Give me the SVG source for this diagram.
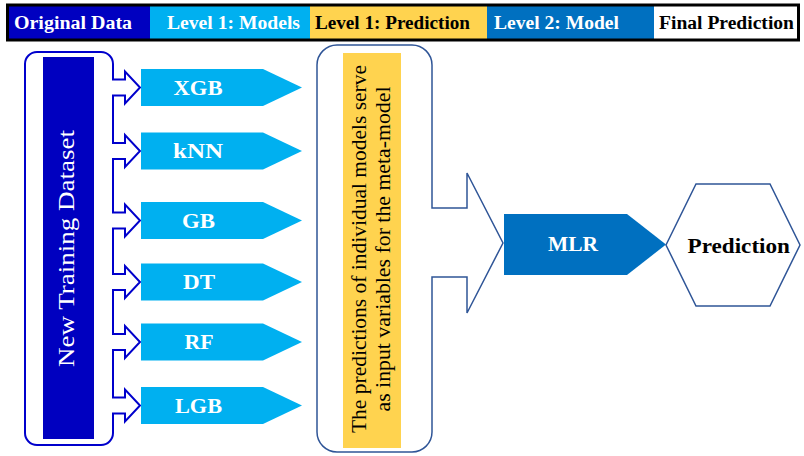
<svg xmlns="http://www.w3.org/2000/svg" width="804" height="456" viewBox="0 0 804 456">
  <style>
    .serif { font-family: "Liberation Serif", "Times New Roman", serif; }
    .hdr { font-size: 18px; font-weight: bold; }
    .lbl { font-size: 20px; font-weight: bold; fill: #ffffff; text-anchor: middle; }
    .model { fill: #00B0F0; }
    .fan { fill: #ffffff; stroke: #0000CC; stroke-width: 2; stroke-linejoin: miter; }
    .merge { fill: #ffffff; stroke: #2F5597; stroke-width: 1.5; }
  </style>

  <rect width="804" height="456" fill="#ffffff"/>

  <!-- legend bar -->
  <g id="legend">
    <rect x="7" y="5" width="143" height="35" fill="#0000C0"/>
    <rect x="150" y="5" width="160" height="35" fill="#00B0F0"/>
    <rect x="310" y="5" width="177" height="35" fill="#FFD34F"/>
    <rect x="487" y="5" width="167" height="35" fill="#0070C0"/>
    <rect x="654" y="5" width="145" height="35" fill="#ffffff"/>
    <rect x="7.5" y="5" width="791" height="35" fill="none" stroke="#000000" stroke-width="3"/>
    <text class="serif hdr" x="14" y="28.5" fill="#ffffff" textLength="118" lengthAdjust="spacingAndGlyphs">Original Data</text>
    <text class="serif hdr" x="167" y="28.5" fill="#ffffff" textLength="133" lengthAdjust="spacingAndGlyphs">Level 1: Models</text>
    <text class="serif hdr" x="315" y="28.5" fill="#000000" textLength="155" lengthAdjust="spacingAndGlyphs">Level 1: Prediction</text>
    <text class="serif hdr" x="494" y="28.5" fill="#ffffff" textLength="125" lengthAdjust="spacingAndGlyphs">Level 2: Model</text>
    <text class="serif hdr" x="659" y="28.5" fill="#000000" textLength="135" lengthAdjust="spacingAndGlyphs">Final Prediction</text>
  </g>

  <!-- fan-out container and the merge block arrow -->
  <g id="connectors">
    <path class="fan" d="M37,52 H101 A12,12 0 0 1 113,64
      V79.5 H125 V71.5 L140,87.5 L125,103.5 V95.5 H113
      V143 H125 V135 L140,151 L125,167 V159 H113
      V212.5 H125 V204.5 L140,220.5 L125,236.5 V228.5 H113
      V274 H125 V266 L140,282 L125,298 V290 H113
      V334 H125 V326 L140,342 L125,358 V350 H113
      V397.5 H125 V389.5 L140,405.5 L125,421.5 V413.5 H113
      V433 A12,12 0 0 1 101,445 H37 A12,12 0 0 1 25,433 V64 A12,12 0 0 1 37,52 Z"/>
    <path class="merge" d="M337,45 H412 A20,20 0 0 1 432,65 V208 H467 V173 L503,243 L467,313 V277 H432
      V432 A20,20 0 0 1 412,452 H337 A20,20 0 0 1 317,432 V65 A20,20 0 0 1 337,45 Z"/>
  </g>

  <g id="dataset">
    <rect x="43" y="57" width="51" height="382" fill="#0000C0"/>
    <text class="serif" transform="translate(74,248.5) rotate(-90)" x="0" y="0" font-size="24" fill="#ffffff" text-anchor="middle" textLength="237" lengthAdjust="spacingAndGlyphs">New Training Dataset</text>
  </g>

  <g id="xgb">
    <polygon class="model" points="141,69 263,69 302,87.5 263,106 141,106"/>
    <text class="serif lbl" x="198" y="94.5" textLength="49" lengthAdjust="spacingAndGlyphs">XGB</text>
  </g>
  <g id="knn">
    <polygon class="model" points="141,132.5 263,132.5 302,151 263,169.5 141,169.5"/>
    <text class="serif lbl" x="198" y="158" textLength="50" lengthAdjust="spacingAndGlyphs">kNN</text>
  </g>
  <g id="gb">
    <polygon class="model" points="141,202 263,202 302,220.5 263,239 141,239"/>
    <text class="serif lbl" x="198.5" y="227.5" textLength="33" lengthAdjust="spacingAndGlyphs">GB</text>
  </g>
  <g id="dt">
    <polygon class="model" points="141,263.5 263,263.5 302,282 263,300.5 141,300.5"/>
    <text class="serif lbl" x="199" y="289" textLength="32" lengthAdjust="spacingAndGlyphs">DT</text>
  </g>
  <g id="rf">
    <polygon class="model" points="141,323.5 263,323.5 302,342 263,360.5 141,360.5"/>
    <text class="serif lbl" x="199" y="349" textLength="29" lengthAdjust="spacingAndGlyphs">RF</text>
  </g>
  <g id="lgb">
    <polygon class="model" points="141,387 263,387 302,405.5 263,424 141,424"/>
    <text class="serif lbl" x="198.5" y="412.5" textLength="47" lengthAdjust="spacingAndGlyphs">LGB</text>
  </g>

  <g id="predictions">
    <rect x="343" y="53" width="58" height="395" fill="#FFD34F"/>
    <text class="serif" transform="translate(366,249) rotate(-90)" x="0" y="0" font-size="20" fill="#000000" text-anchor="middle" textLength="368" lengthAdjust="spacingAndGlyphs">The predictions of individual models serve</text>
    <text class="serif" transform="translate(389.5,249) rotate(-90)" x="0" y="0" font-size="20" fill="#000000" text-anchor="middle" textLength="325" lengthAdjust="spacingAndGlyphs">as input variables for the meta-model</text>
  </g>

  <g id="mlr">
    <polygon points="504,214 627,214 666,244.5 627,275 504,275" fill="#0070C0"/>
    <text class="serif" x="573" y="251" font-size="21" font-weight="bold" fill="#ffffff" text-anchor="middle" textLength="50" lengthAdjust="spacingAndGlyphs">MLR</text>
  </g>

  <g id="final">
    <polygon points="666,245 696,184 770,184 800,245 770,306 696,306" fill="#ffffff" stroke="#2F5597" stroke-width="1.5"/>
    <text class="serif" x="687.5" y="252.5" font-size="22" font-weight="bold" fill="#000000" textLength="102.5" lengthAdjust="spacingAndGlyphs">Prediction</text>
  </g>
</svg>
